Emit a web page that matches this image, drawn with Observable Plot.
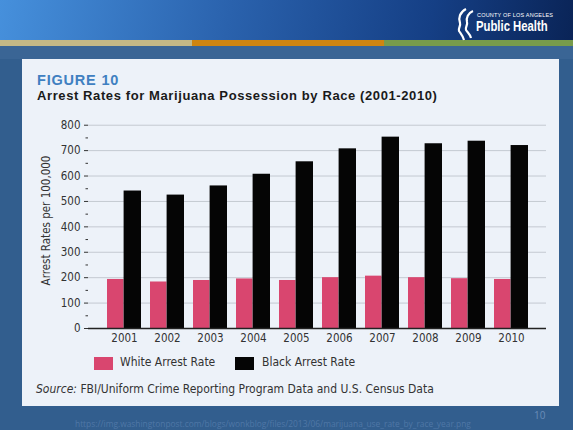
<!DOCTYPE html>
<html><head><meta charset="utf-8">
<script src="https://cdn.jsdelivr.net/npm/d3@7"></script>
<script src="https://cdn.jsdelivr.net/npm/@observablehq/plot@0.6"></script>
<style>
html,body{margin:0;padding:0;}
body{width:573px;height:430px;position:relative;overflow:hidden;background:#325e8e;font-family:"Liberation Sans",Arial,sans-serif;}
#header{position:absolute;left:0;top:0;width:573px;height:40px;background:linear-gradient(100deg,#4690dc 0%,#2a62ad 40%,#153f85 75%,#0a2457 100%);}
.strip{position:absolute;top:40px;height:6px;}
#band{position:absolute;left:0;top:46px;width:573px;height:13px;background:#3a6595;}
#panel{position:absolute;left:22px;top:59px;width:537px;height:347px;background:#edf2f9;}
.abs{position:absolute;white-space:nowrap;}
#fig{left:37px;top:72px;font-size:14.5px;font-weight:bold;color:#3f80c1;letter-spacing:0.8px;}
#sub{left:37px;top:88px;font-size:13px;font-weight:bold;color:#1a1a1a;letter-spacing:0.6px;}
.leg{top:355px;font-size:12px;color:#333;font-family:"DejaVu Sans Condensed","Liberation Sans",sans-serif;}
.sw{position:absolute;top:357px;width:19px;height:13px;}
#src{left:36px;top:382px;font-size:12px;color:#333;font-family:"DejaVu Sans Condensed","Liberation Sans",sans-serif;}
#url{left:75px;top:418px;font-size:8.4px;color:#4f77a6;font-family:"Open Sans",sans-serif;}
#pg{left:534px;top:408px;font-size:10px;color:#6a8db8;font-family:"Open Sans",sans-serif;}
#chart{position:absolute;left:0;top:0;}
#county{left:477px;top:12px;font-size:5.5px;color:#fff;font-family:"Liberation Sans",sans-serif;letter-spacing:0.2px;}
#ph{left:476px;top:18px;font-size:14.5px;font-weight:bold;color:#fff;font-family:"Liberation Sans",sans-serif;transform:scaleX(0.78);transform-origin:0 0;}
#logo{position:absolute;left:455px;top:7px;}
</style></head>
<body>
<div id="header"></div>
<div class="strip" style="left:0;width:192px;background:#c3b886;"></div>
<div class="strip" style="left:192px;width:192px;background:#cf8510;"></div>
<div class="strip" style="left:384px;width:189px;background:#779b4b;"></div>
<div id="band"></div>
<svg id="logo" width="22" height="34" viewBox="0 0 22 34"><path d="M11 2 C5 5 3 11 5 16 C6 19 3 21 4 24 C6 27 8 29 9 33" fill="none" stroke="#fff" stroke-width="2.2"/><path d="M18 4 C13 6 11 11 12 15 C13 18 10 20 11 23 C13 26 15 27 16 31" fill="none" stroke="#fff" stroke-width="2.2"/></svg>
<div class="abs" id="county">COUNTY OF LOS ANGELES</div>
<div class="abs" id="ph">Public Health</div>
<div id="panel"></div>
<div class="abs" id="fig">FIGURE 10</div>
<div class="abs" id="sub">Arrest Rates for Marijuana Possession by Race (2001-2010)</div>
<div id="chart"></div>
<div class="sw" style="left:94px;background:#d9466f;"></div>
<div class="abs leg" style="left:120px;">White Arrest Rate</div>
<div class="sw" style="left:235px;background:#050505;"></div>
<div class="abs leg" style="left:262px;">Black Arrest Rate</div>
<div class="abs" id="src"><i>Source:</i> FBI/Uniform Crime Reporting Program Data and U.S. Census Data</div>
<div class="abs" id="pg">10</div>
<div class="abs" id="url">https://img.washingtonpost.com/blogs/wonkblog/files/2013/06/marijuana_use_rate_by_race_year.png</div>
<script>
const years = ["2001","2002","2003","2004","2005","2006","2007","2008","2009","2010"];
const whiteRate = [193,183,189,195,189,200,206,200,196,193];
const blackRate = [541,525,561,607,656,707,753,727,737,720];
const yTicks = [0,100,200,300,400,500,600,700,800];
const yMinorTicks = [50,150,250,350,450,550,650,750];
const whiteData = years.map((y,i)=>({year:y, rate:whiteRate[i]}));
const blackData = years.map((y,i)=>({year:y, rate:blackRate[i]}));
const chart = Plot.plot({
  width:573, height:430,
  marginLeft:88, marginRight:27, marginTop:112, marginBottom:102,
  style:{background:"transparent", fontFamily:"'DejaVu Sans Condensed','Liberation Sans',sans-serif", fontSize:"11.5px", color:"#333", overflow:"visible"},
  x:{type:"band", domain:years, paddingInner:0.22, paddingOuter:0.35, label:null},
  y:{domain:[0,850], label:null},
  marks:[
    Plot.gridY(yTicks.filter(d=>d>0), {stroke:"#c4c9d1", strokeOpacity:1}),
    Plot.barY(whiteData, {x:"year", y:"rate", fill:"#d9466f", insetRight:17.5, insetLeft:0}),
    Plot.barY(blackData, {x:"year", y:"rate", fill:"#050505", insetLeft:16.6, insetRight:0}),
    Plot.axisY({ticks:yMinorTicks, tickSize:2.5, tickFormat:()=>"", line:true, label:null}),
    Plot.axisY({ticks:yTicks, tickSize:4, tickPadding:4, label:"Arrest Rates per 100,000", labelAnchor:"center", labelArrow:false, labelOffset:47}),
    Plot.axisX({tickSize:0, tickPadding:5, label:null}),
    Plot.ruleY([0], {stroke:"#222", strokeWidth:1.5})
  ]
});
document.getElementById("chart").appendChild(chart);
</script>
</body></html>
